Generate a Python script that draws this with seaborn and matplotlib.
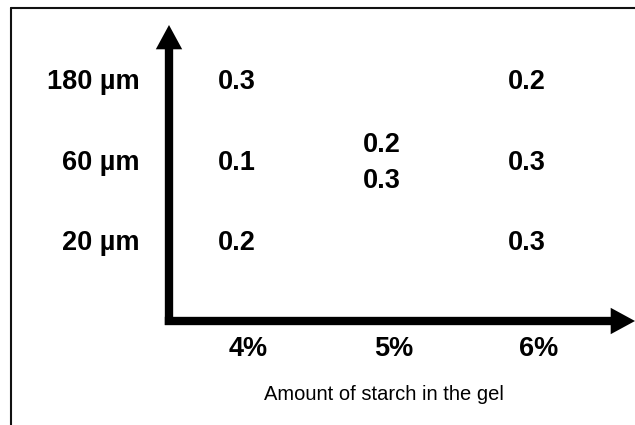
import numpy as np
import matplotlib
matplotlib.use("Agg")
import matplotlib.pyplot as plt
from matplotlib.colors import ListedColormap
from matplotlib.lines import Line2D
import seaborn as sns

# grain sizes (rows, top to bottom) and starch amounts (columns)
sizes = ["180 µm", "60 µm", "20 µm"]
starch = ["4%", "5%", "6%"]

# measured values in each cell, one list per row
values_4 = [[0.3], [0.1], [0.2]]
values_5 = [[], [0.2, 0.3], []]
values_6 = [[0.2], [0.3], [0.3]]

xlabel = "Amount of starch in the gel"


def build_tables():
    cols = [values_4, values_5, values_6]
    counts = np.full((len(sizes), len(starch)), np.nan)
    labels = np.full((len(sizes), len(starch)), "", dtype=object)
    for j, col in enumerate(cols):
        for i, cell in enumerate(col):
            if cell:
                counts[i, j] = len(cell)
                labels[i, j] = "\n".join(f"{v:.1f}" for v in cell)
    return counts, labels


sns.set_theme(style="white")
plt.rcParams["font.family"] = ["Liberation Sans", "DejaVu Sans"]

fig = plt.figure(figsize=(6.35, 4.25), dpi=100)
ax = fig.add_axes([169 / 635, 1 - 321 / 425, 1 - 169 / 635, (321 - 25) / 425])

counts, labels = build_tables()
sns.heatmap(counts, annot=labels, fmt="", cmap=ListedColormap(["white"]),
            cbar=False, ax=ax, linewidths=0,
            annot_kws={"size": 19.5, "weight": "bold", "color": "black",
                       "linespacing": 1.5})

ax.set_xlim(0.031, 3.245)
ax.set_ylim(3.47, -0.21)

ax.set_xticks(np.arange(len(starch)) + 0.58)
ax.set_xticklabels(starch, fontsize=19.5, fontweight="bold", color="black")
ax.set_yticks(np.arange(len(sizes)) + 0.5)
ax.set_yticklabels(sizes, fontsize=19.5, fontweight="bold", color="black", rotation=0)
ax.tick_params(axis="x", length=0, pad=11)
ax.tick_params(axis="y", length=0, pad=21)

ax.set_xlabel(xlabel, fontsize=14.5, color="black")
ax.xaxis.set_label_coords(0.461, -0.215)

for s in ax.spines.values():
    s.set_visible(False)

arrow = dict(arrowstyle="simple,head_length=1.75,head_width=1.9,tail_width=0.6",
             mutation_scale=10, lw=0, color="black", shrinkA=0, shrinkB=0)
ax.annotate("", xy=(1.0, 0), xytext=(-0.009, 0), xycoords="axes fraction",
            arrowprops=arrow, annotation_clip=False)
ax.annotate("", xy=(0, 1.0), xytext=(0, -0.0135), xycoords="axes fraction",
            arrowprops=arrow, annotation_clip=False)

# outer frame (left and top edges only)
fig.add_artist(Line2D([11 / 635, 11 / 635], [0, 1 - 8 / 425], transform=fig.transFigure,
                      color="#111111", lw=1.5))
fig.add_artist(Line2D([11 / 635, 1], [1 - 8 / 425, 1 - 8 / 425], transform=fig.transFigure,
                      color="#111111", lw=1.5))

fig.savefig("out.png", dpi=100)
